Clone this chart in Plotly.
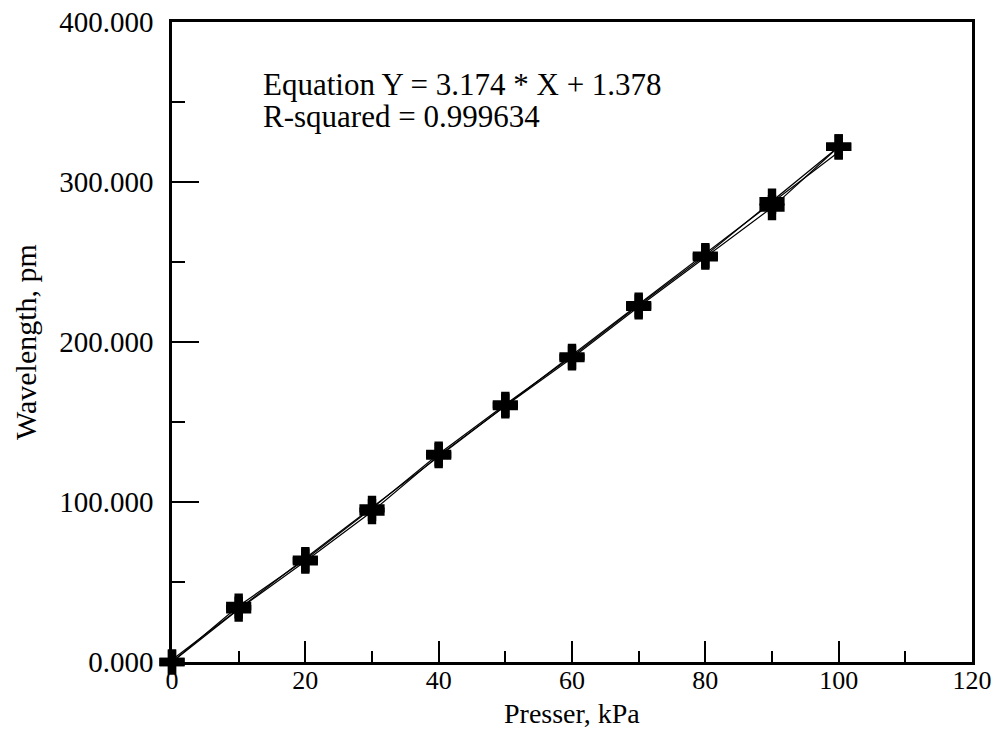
import plotly.graph_objects as go

# Data
pressure_kpa = [0, 10, 20, 30, 40, 50, 60, 70, 80, 90, 100]
wavelength_up = [0, 35, 64, 96, 130, 161, 191, 223, 254, 288, 322]
wavelength_down = [0, 33, 63, 94, 129, 160, 190, 222, 253, 284, 322]
fit_x = [0, 100]
fit_y = [1.4, 318.8]

x_ticks = [0, 20, 40, 60, 80, 100, 120]
y_ticks = [0, 100, 200, 300, 400]

x_title = "Presser, kPa"
y_title = "Wavelength, pm"
eq_text = "Equation Y = 3.174 * X + 1.378"
r2_text = "R-squared = 0.999634"

FONT = "Liberation Serif, Times New Roman, serif"

fig = go.Figure()

fig.add_trace(go.Scatter(
    x=fit_x, y=fit_y, mode="lines",
    line=dict(color="black", width=1.2),
    showlegend=False, hoverinfo="skip",
))
fig.add_trace(go.Scatter(
    x=pressure_kpa, y=wavelength_up, mode="lines+markers",
    line=dict(color="black", width=1.2),
    marker=dict(symbol="cross", size=21, color="black"),
    cliponaxis=False, showlegend=False,
))
fig.add_trace(go.Scatter(
    x=pressure_kpa, y=wavelength_down, mode="lines+markers",
    line=dict(color="black", width=1.2),
    marker=dict(symbol="cross", size=21, color="black"),
    cliponaxis=False, showlegend=False,
))

fig.add_annotation(x=13.3, y=361, xref="x", yref="y", text=eq_text,
                   showarrow=False, xanchor="left", yanchor="middle",
                   font=dict(family=FONT, size=31, color="black"))
fig.add_annotation(x=13.3, y=341, xref="x", yref="y", text=r2_text,
                   showarrow=False, xanchor="left", yanchor="middle",
                   font=dict(family=FONT, size=31, color="black"))
fig.add_annotation(x=0.5, y=-0.0797, xref="paper", yref="paper", text=x_title,
                   showarrow=False, xanchor="center", yanchor="middle",
                   font=dict(family=FONT, size=28, color="black"))

fig.update_layout(
    width=1001, height=731,
    margin=dict(l=172, r=29, t=22, b=69),
    paper_bgcolor="white", plot_bgcolor="white",
    font=dict(family=FONT, color="black"),
    xaxis=dict(
        range=[0, 120], tickvals=x_ticks, ticktext=[str(v) for v in x_ticks],
        ticks="inside", ticklen=21, tickwidth=2, tickcolor="black",
        showline=True, linewidth=2.5, linecolor="black", mirror=True,
        showgrid=False, zeroline=False, automargin=False,
        minor=dict(dtick=10, tick0=0, ticks="inside", ticklen=11, tickwidth=2,
                   tickcolor="black", showgrid=False),
        tickfont=dict(family=FONT, size=26, color="black"),
        ticklabelstandoff=-7,
    ),
    yaxis=dict(
        range=[0, 400], tickvals=y_ticks, ticktext=[f"{v:.3f}" for v in y_ticks],
        ticks="inside", ticklen=27, tickwidth=2, tickcolor="black",
        showline=True, linewidth=2.5, linecolor="black", mirror=True,
        showgrid=False, zeroline=False, automargin=False,
        minor=dict(dtick=50, tick0=0, ticks="inside", ticklen=13, tickwidth=2,
                   tickcolor="black", showgrid=False),
        tickfont=dict(family=FONT, size=29, color="black"),
        ticklabelstandoff=10,
        title=dict(text=y_title, font=dict(family=FONT, size=30, color="black"),
                   standoff=14),
    ),
)

fig.write_html("out.html")
